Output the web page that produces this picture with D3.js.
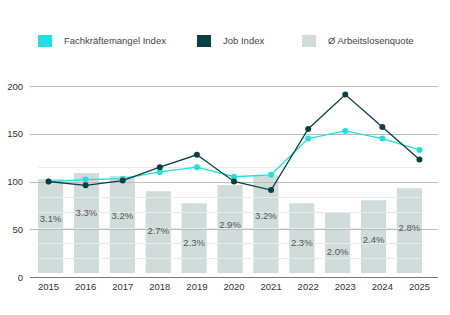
<!DOCTYPE html>
<html>
<head>
<meta charset="utf-8">
<script src="https://cdn.jsdelivr.net/npm/d3@7"></script>
<style>
  html, body { margin: 0; padding: 0; background: #fff; }
  svg { display: block; font-family: "Liberation Sans", Arial, sans-serif; }
</style>
</head>
<body>
<svg id="chart" width="450" height="315"></svg>
<script>
const years = ["2015","2016","2017","2018","2019","2020","2021","2022","2023","2024","2025"];
const fachkraefte = [100, 102, 103, 110, 115, 105, 107, 145, 153, 145, 133];
const jobIndex = [100, 96, 101, 115, 128, 100, 91, 155, 191, 157, 123];
const arbeitslosenquote = [3.1, 3.3, 3.2, 2.7, 2.3, 2.9, 3.2, 2.3, 2.0, 2.4, 2.8];
const yTicks = [0, 50, 100, 150, 200];
const y2Ticks = [0.5, 1, 1.5, 2, 2.5, 3, 3.5];
const legendLabels = ["Fachkräftemangel Index", "Job Index", "Ø Arbeitslosenquote"];

const cCyan = "#1fe0e0", cDark = "#0a4043", cBar = "#cfdcda";

const svg = d3.select("#chart");

const x = d3.scaleBand().domain(years).range([30, 438]);
const xb = d3.scaleBand().domain(years).range([38, 422]).paddingInner(0.3).paddingOuter(0);
const y = d3.scaleLinear().domain([0, 200]).range([277, 86]);
const y2 = d3.scaleLinear().domain([0, 3.5]).range([273, 167]);

// bars
svg.append("g").selectAll("rect").data(arbeitslosenquote).join("rect")
  .attr("x", (d, i) => xb(years[i]))
  .attr("width", xb.bandwidth())
  .attr("y", d => y2(d))
  .attr("height", d => y2(0) - y2(d))
  .attr("fill", cBar);

// secondary faint grid
svg.append("g").selectAll("line").data(y2Ticks).join("line")
  .attr("x1", 38).attr("x2", 422)
  .attr("y1", d => Math.round(y2(d)) + 0.5).attr("y2", d => Math.round(y2(d)) + 0.5)
  .attr("stroke", "#e6ecec").attr("stroke-width", 1);

// primary grid
svg.append("g").selectAll("line").data(yTicks.filter(d => d > 0)).join("line")
  .attr("x1", 30).attr("x2", 438)
  .attr("y1", d => Math.round(y(d)) + 0.5).attr("y2", d => Math.round(y(d)) + 0.5)
  .attr("stroke", "#b9bdbd").attr("stroke-width", 1);

// bar labels
svg.append("g").selectAll("text").data(arbeitslosenquote).join("text")
  .attr("x", (d, i) => xb(years[i]) + xb.bandwidth() / 2)
  .attr("y", d => y2(d) + 40)
  .attr("text-anchor", "middle").attr("dominant-baseline", "middle")
  .attr("font-size", 9.5).attr("fill", "#555")
  .text(d => d.toFixed(1) + "%");

// axis line
svg.append("line").attr("x1", 30).attr("x2", 438)
  .attr("y1", y(0) + 0.5).attr("y2", y(0) + 0.5)
  .attr("stroke", "#777").attr("stroke-width", 1.2);

// y axis labels
const yAxis = d3.axisLeft(y).tickValues(yTicks).tickSize(0).tickPadding(0);
const gy = svg.append("g").attr("transform", "translate(23,0)").call(yAxis);
gy.select(".domain").remove();
gy.selectAll("text").attr("font-size", 9.5).attr("fill", "#333").attr("font-family", "Liberation Sans, Arial, sans-serif");

// x axis labels
const xAxis = d3.axisBottom(x).tickSize(0).tickPadding(0);
const gx = svg.append("g").attr("transform", "translate(0,283)").call(xAxis);
gx.select(".domain").remove();
gx.selectAll("text").attr("font-size", 9.5).attr("fill", "#333").attr("font-family", "Liberation Sans, Arial, sans-serif");

// lines
const line = d3.line().x((d, i) => x(years[i]) + x.bandwidth() / 2).y(d => y(d));
function series(data, color) {
  svg.append("path").datum(data).attr("d", line)
    .attr("fill", "none").attr("stroke", color).attr("stroke-width", 1.3);
  svg.append("g").selectAll("circle").data(data).join("circle")
    .attr("cx", (d, i) => x(years[i]) + x.bandwidth() / 2)
    .attr("cy", d => y(d)).attr("r", 3).attr("fill", color);
}
series(fachkraefte, cCyan);
series(jobIndex, cDark);

// legend
const legendColors = [cCyan, cDark, cBar];
const legendX = [38, 197, 302];
const lg = svg.append("g");
legendLabels.forEach((t, i) => {
  lg.append("rect").attr("x", legendX[i]).attr("y", 35).attr("width", 14).attr("height", 12).attr("fill", legendColors[i]);
  lg.append("text").attr("x", legendX[i] + 26).attr("y", 41)
    .attr("dominant-baseline", "middle").attr("font-size", 9.5).attr("fill", "#444").text(t);
});
</script>
</body>
</html>
